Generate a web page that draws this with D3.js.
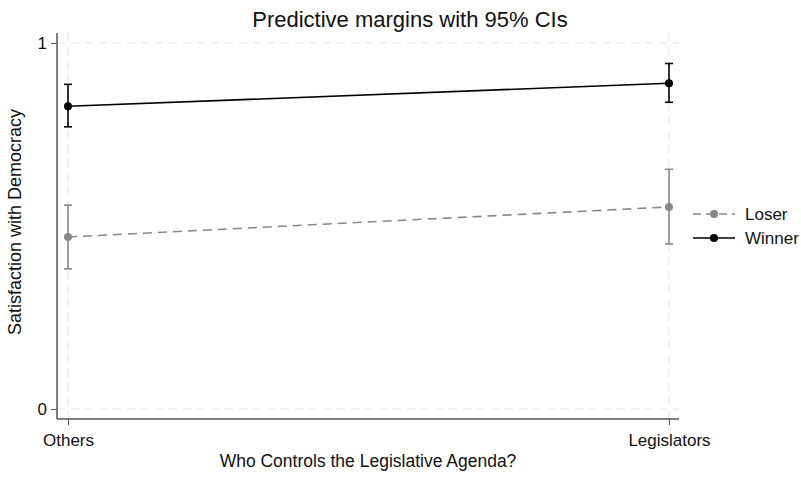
<!DOCTYPE html>
<html>
<head>
<meta charset="utf-8">
<script src="https://cdn.jsdelivr.net/npm/d3@7"></script>
<style>
  body { margin: 0; background: #fff; }
  svg { display: block; font-family: "Liberation Sans", Arial, sans-serif; }
</style>
</head>
<body>
<svg id="chart" width="801" height="477"></svg>
<script>
// Predictive margins of satisfaction with democracy, by agenda control
const categories = ["Others", "Legislators"];
const seriesNames = ["Loser", "Winner"];
const loserMargin = [0.470, 0.552];
const loserLow = [0.383, 0.451];
const loserHigh = [0.557, 0.655];
const winnerMargin = [0.827, 0.890];
const winnerLow = [0.771, 0.838];
const winnerHigh = [0.887, 0.944];
const yTicks = [0, 1];

const series = [
  { name: seriesNames[0], m: loserMargin, lo: loserLow, hi: loserHigh, color: "#888888", dash: "9,6" },
  { name: seriesNames[1], m: winnerMargin, lo: winnerLow, hi: winnerHigh, color: "#000000", dash: null }
];

const svg = d3.select("#chart");

const x = d3.scalePoint().domain(categories).range([68, 669]);
const y = d3.scaleLinear().domain([0, 1]).range([409, 43]);

const axisColor = "#555";
const gridColor = "#e6e6e6";
const font = "Liberation Sans, Arial, sans-serif";

// Grid lines
const grid = svg.append("g");
categories.forEach(c => {
  grid.append("line").attr("x1", x(c)).attr("x2", x(c)).attr("y1", 33).attr("y2", 419)
    .attr("stroke", gridColor).attr("stroke-width", 1.2).attr("stroke-dasharray", "8,6");
});
yTicks.forEach(t => {
  grid.append("line").attr("x1", 57).attr("x2", 679).attr("y1", y(t)).attr("y2", y(t))
    .attr("stroke", gridColor).attr("stroke-width", 1.2).attr("stroke-dasharray", "8,6");
});

// Axes
const yAxis = d3.axisLeft(y).tickValues(yTicks).tickFormat(d3.format("d")).tickSize(6).tickPadding(4);
const gy = svg.append("g").attr("transform", "translate(57,0)").call(yAxis);
gy.select(".domain").attr("d", "M0,33V419").attr("stroke", axisColor).attr("stroke-width", 1.5);
gy.selectAll(".tick line").attr("stroke", axisColor);
gy.selectAll(".tick text").attr("font-size", 17).attr("fill", "#111").attr("font-family", font);

const xAxis = d3.axisBottom(x).tickSize(6).tickPadding(9);
const gx = svg.append("g").attr("transform", "translate(0,419)").call(xAxis);
gx.select(".domain").attr("d", "M57,0H679").attr("stroke", axisColor).attr("stroke-width", 1.5);
gx.selectAll(".tick line").attr("stroke", axisColor);
gx.selectAll(".tick text").attr("font-size", 17).attr("fill", "#111").attr("font-family", font);

// Series: error bars, connecting lines, markers
series.forEach(s => {
  const g = svg.append("g");
  categories.forEach((c, i) => {
    g.append("line").attr("x1", x(c)).attr("x2", x(c)).attr("y1", y(s.lo[i])).attr("y2", y(s.hi[i]))
      .attr("stroke", s.color).attr("stroke-width", 1.6);
    [s.lo[i], s.hi[i]].forEach(v => {
      g.append("line").attr("x1", x(c) - 4).attr("x2", x(c) + 4).attr("y1", y(v)).attr("y2", y(v))
        .attr("stroke", s.color).attr("stroke-width", 1.6);
    });
  });
  const line = d3.line().x((d, i) => x(categories[i])).y(d => y(d));
  g.append("path").datum(s.m).attr("d", line).attr("fill", "none")
    .attr("stroke", s.color).attr("stroke-width", 1.6).attr("stroke-dasharray", s.dash);
  g.selectAll("circle").data(s.m).join("circle")
    .attr("cx", (d, i) => x(categories[i])).attr("cy", d => y(d)).attr("r", 4)
    .attr("fill", s.color);
});

// Legend
const legend = svg.append("g");
series.forEach((s, i) => {
  const ly = 214 + i * 24;
  legend.append("line").attr("x1", 693).attr("x2", 735).attr("y1", ly).attr("y2", ly)
    .attr("stroke", s.color).attr("stroke-width", 1.6).attr("stroke-dasharray", s.dash ? "8,5" : null);
  legend.append("circle").attr("cx", 714).attr("cy", ly).attr("r", 4).attr("fill", s.color);
  legend.append("text").attr("x", 745).attr("y", ly).attr("dy", "0.35em")
    .attr("font-size", 17).attr("fill", "#111").text(s.name);
});

// Titles
svg.append("text").attr("x", 410).attr("y", 27).attr("text-anchor", "middle")
  .attr("font-size", 22).attr("fill", "#111").text("Predictive margins with 95% CIs");
svg.append("text").attr("x", 368).attr("y", 467).attr("text-anchor", "middle")
  .attr("font-size", 17.5).attr("fill", "#111").text("Who Controls the Legislative Agenda?");
svg.append("text").attr("transform", "translate(21,222) rotate(-90)").attr("text-anchor", "middle")
  .attr("font-size", 18).attr("fill", "#111").text("Satisfaction with Democracy");
</script>
</body>
</html>
